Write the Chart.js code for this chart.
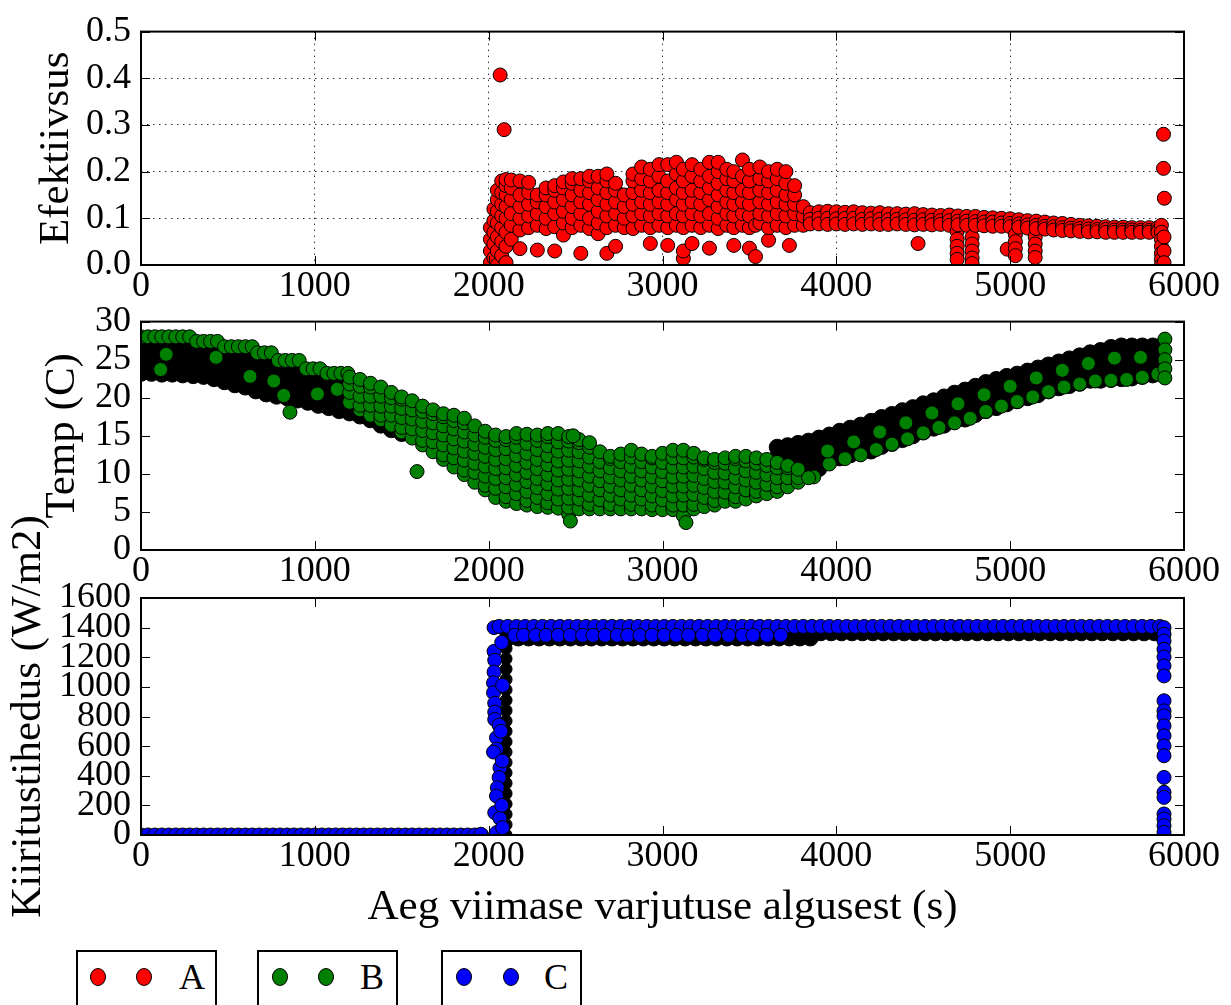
<!DOCTYPE html>
<html>
<head>
<meta charset="utf-8">
<title>Efektiivsus, temperatuur ja kiiritustihedus</title>
<script src="https://cdn.jsdelivr.net/npm/chart.js"></script>
<style>
  body { margin: 0; background: #fff; width: 1231px; height: 1005px; overflow: hidden; position: relative; }
  canvas { position: absolute; left: 0; }
  .leg { position: absolute; top: 950px; width: 137px; height: 90px; border: 2px solid #000; }
  .leg i { position: absolute; top: 16px; width: 14px; height: 16px; border-radius: 50%; border: 1px solid #000; }
  .leg span { position: absolute; left: 101px; top: 1px; font: 36px 'Liberation Serif', serif; line-height: 48px; color: #000; }
</style>
</head>
<body>
<canvas id="chartEff" width="1231" height="300" style="top:0"></canvas>
<canvas id="chartTemp" width="1231" height="300" style="top:290px"></canvas>
<canvas id="chartIrr" width="1231" height="460" style="top:480px"></canvas>

<div class="leg" style="left:76px"><i style="left:12px;background:#f00"></i><i style="left:58px;background:#f00"></i><span>A</span></div>
<div class="leg" style="left:257px"><i style="left:13px;background:#008000"></i><i style="left:59px;background:#008000"></i><span>B</span></div>
<div class="leg" style="left:441px"><i style="left:13px;background:#00f"></i><i style="left:60px;background:#00f"></i><span>C</span></div>

<script>
// x axis: time since start of last eclipse (s)
const xTicks = [0, 1000, 2000, 3000, 4000, 5000, 6000];
const effTicks = [0, 0.1, 0.2, 0.3, 0.4, 0.5];
const tempTicks = [0, 5, 10, 15, 20, 25, 30];
const irrTicks = [0, 200, 400, 600, 800, 1000, 1200, 1400, 1600];

// ---- panel 1: efficiency (columns: x, then y values) ----
const effOutliers = [[2066, 0.407], [2089, 0.29], [4470, 0.046], [5882, 0.28], [5882, 0.207], [5887, 0.143]];
const effCloud = [
  [2010, 0.005, 0.03, 0.055, 0.08],
  [2030, 0.015, 0.045, 0.07, 0.095, 0.12],
  [2050, 0.0, 0.03, 0.06, 0.09, 0.115, 0.14, 0.16],
  [2075, 0.02, 0.05, 0.08, 0.105, 0.13, 0.155, 0.18],
  [2100, 0.005, 0.04, 0.07, 0.1, 0.125, 0.15, 0.17, 0.183],
  [2130, 0.055, 0.085, 0.11, 0.14, 0.165, 0.182],
  [2180, 0.035, 0.075, 0.1, 0.125, 0.15, 0.18],
  [2230, 0.08, 0.105, 0.13, 0.155, 0.177],
  [2280, 0.032, 0.085, 0.11, 0.135, 0.15],
  [2330, 0.078, 0.1, 0.125, 0.15, 0.165],
  [2380, 0.03, 0.082, 0.11, 0.135, 0.16, 0.17],
  [2430, 0.064, 0.09, 0.115, 0.14, 0.165, 0.178],
  [2480, 0.08, 0.1, 0.125, 0.15, 0.175, 0.185],
  [2530, 0.025, 0.085, 0.11, 0.135, 0.16, 0.185],
  [2580, 0.078, 0.1, 0.13, 0.155, 0.18, 0.19],
  [2630, 0.067, 0.09, 0.115, 0.14, 0.165, 0.19],
  [2680, 0.025, 0.08, 0.105, 0.13, 0.155, 0.18, 0.195],
  [2730, 0.04, 0.085, 0.11, 0.135, 0.16, 0.175],
  [2780, 0.08, 0.1, 0.125, 0.15],
  [2830, 0.078, 0.105, 0.13, 0.155, 0.18, 0.195],
  [2880, 0.085, 0.11, 0.135, 0.16, 0.185, 0.21],
  [2930, 0.046, 0.08, 0.105, 0.13, 0.155, 0.18, 0.205],
  [2980, 0.085, 0.11, 0.135, 0.16, 0.19, 0.215],
  [3030, 0.042, 0.08, 0.105, 0.13, 0.155, 0.18, 0.215],
  [3080, 0.085, 0.11, 0.14, 0.165, 0.195, 0.22],
  [3120, 0.014, 0.03, 0.08, 0.105, 0.13, 0.155, 0.18, 0.205],
  [3170, 0.046, 0.085, 0.11, 0.135, 0.16, 0.19, 0.215],
  [3220, 0.08, 0.105, 0.13, 0.155, 0.18, 0.205],
  [3270, 0.036, 0.085, 0.11, 0.14, 0.165, 0.19, 0.22],
  [3320, 0.078, 0.1, 0.125, 0.15, 0.175, 0.2, 0.22],
  [3370, 0.085, 0.11, 0.135, 0.16, 0.185, 0.205],
  [3410, 0.042, 0.08, 0.105, 0.13, 0.155, 0.18, 0.2],
  [3460, 0.085, 0.11, 0.135, 0.16, 0.19, 0.225],
  [3500, 0.036, 0.08, 0.105, 0.13, 0.155, 0.18, 0.205],
  [3535, 0.018, 0.085],
  [3560, 0.09, 0.11, 0.135, 0.16, 0.185, 0.21],
  [3610, 0.053, 0.08, 0.105, 0.13, 0.155, 0.18, 0.2],
  [3660, 0.085, 0.11, 0.135, 0.16, 0.185, 0.205],
  [3710, 0.08, 0.105, 0.13, 0.15, 0.175, 0.2],
  [3730, 0.042],
  [3760, 0.085, 0.11, 0.13, 0.15, 0.17],
  [3810, 0.085, 0.105, 0.125]
];
const effBand = [
  [3850, 0.112, 0.098, 0.088], [3900, 0.114, 0.1, 0.088], [3950, 0.115, 0.1, 0.087],
  [4000, 0.114, 0.099, 0.088], [4050, 0.113, 0.1, 0.087], [4100, 0.114, 0.1, 0.088],
  [4150, 0.112, 0.098, 0.087], [4200, 0.111, 0.099, 0.088], [4250, 0.112, 0.098, 0.087],
  [4300, 0.11, 0.097, 0.087], [4350, 0.11, 0.098, 0.088], [4400, 0.109, 0.097, 0.087],
  [4450, 0.11, 0.096, 0.086], [4500, 0.108, 0.097, 0.087], [4550, 0.107, 0.096, 0.086],
  [4600, 0.106, 0.095, 0.087], [4650, 0.107, 0.095, 0.085], [4700, 0.105, 0.094, 0.086],
  [4750, 0.104, 0.094, 0.085], [4800, 0.104, 0.093, 0.085], [4850, 0.102, 0.092, 0.084],
  [4900, 0.101, 0.092, 0.083], [4950, 0.1, 0.09, 0.083], [5000, 0.099, 0.089, 0.082],
  [5050, 0.097, 0.088, 0.081], [5100, 0.095, 0.086, 0.079], [5150, 0.094, 0.085, 0.078],
  [5200, 0.092, 0.083, 0.077], [5250, 0.09, 0.082, 0.075], [5300, 0.089, 0.08, 0.074],
  [5350, 0.087, 0.079, 0.073], [5400, 0.085, 0.078, 0.072], [5450, 0.084, 0.077, 0.071],
  [5500, 0.083, 0.076, 0.071], [5550, 0.082, 0.076, 0.07], [5600, 0.081, 0.075, 0.07],
  [5650, 0.081, 0.075, 0.07], [5700, 0.08, 0.075, 0.07], [5750, 0.08, 0.074, 0.07],
  [5800, 0.08, 0.074, 0.07], [5850, 0.08, 0.074, 0.07]
];
const effDips = [
  [4695, 0.072, 0.055, 0.04, 0.025, 0.012],
  [4781, 0.06, 0.045, 0.03, 0.015, 0.003],
  [4983, 0.034],
  [5030, 0.065, 0.05, 0.035, 0.02],
  [5144, 0.06, 0.045, 0.03, 0.016],
  [5870, 0.085, 0.07, 0.055, 0.04, 0.025, 0.012, 0.0],
  [5885, 0.06, 0.03, 0.005]
];

// ---- panel 2: temperature ----
const tempOutliers = [[113, 23.7], [857, 18.1], [1588, 10.3], [2470, 3.8], [3135, 3.6], [2486, 15.0]];
// very dense overlapping markers, rendered dark as in the source
const tempLeftDense = [
  [0, 23.2, 24.6, 26.0, 27.4], [60, 23.2, 24.6, 26.0, 27.4], [120, 23.1, 24.5, 26.0, 27.4],
  [180, 23.1, 24.5, 26.0, 27.4], [240, 23.0, 24.5, 25.9, 27.4], [300, 22.9, 24.3, 25.6, 27.0],
  [360, 22.8, 24.1, 25.5, 26.8], [420, 22.5, 23.9, 25.4, 26.8], [480, 22.1, 23.4, 24.8, 26.1],
  [540, 21.7, 23.2, 24.6, 26.1], [600, 21.4, 23.0, 24.5, 26.1], [660, 20.9, 22.4, 23.8, 25.3],
  [720, 20.5, 22.1, 23.7, 25.3], [780, 20.2, 21.6, 22.9, 24.3], [840, 20.0, 21.4, 22.9, 24.3],
  [900, 19.7, 21.2, 22.8, 24.3], [960, 19.4, 20.7, 21.9, 23.2], [1020, 19.0, 20.4, 21.8, 23.2],
  [1080, 18.7, 20.0, 21.3, 22.6], [1140, 18.3, 19.7, 21.2, 22.6], [1200, 18.0, 19.3, 20.7, 22.0],
  [1260, 17.6, 18.9, 20.2, 21.5], [1320, 17.1, 18.4, 19.7, 21.0], [1380, 16.4, 17.6, 18.8, 20.0],
  [1440, 15.8, 16.9, 17.9, 19.0], [1500, 15.3, 16.2, 17.1, 18.0]
];
const tempRightDense = [
  [3660, 9.5, 10.8, 12.2, 13.5], [3720, 9.4, 10.8, 12.3, 13.7], [3780, 9.5, 11.0, 12.5, 14.0],
  [3840, 9.8, 11.3, 12.8, 14.3], [3900, 10.7, 12.0, 13.4, 14.7], [3960, 11.6, 12.8, 13.9, 15.1],
  [4020, 12.1, 13.3, 14.4, 15.6], [4080, 12.5, 13.7, 14.8, 16.0], [4140, 12.7, 13.9, 15.2, 16.4],
  [4200, 13.0, 14.3, 15.6, 16.9], [4260, 13.6, 14.9, 16.1, 17.4], [4320, 14.0, 15.3, 16.5, 17.8],
  [4380, 14.5, 15.8, 17.0, 18.3], [4440, 15.0, 16.2, 17.5, 18.7], [4500, 15.5, 16.7, 18.0, 19.2],
  [4560, 16.0, 17.2, 18.4, 19.6], [4620, 16.4, 17.6, 18.9, 20.1], [4680, 16.9, 18.1, 19.4, 20.6],
  [4740, 17.2, 18.5, 19.7, 21.0], [4800, 17.8, 19.0, 20.3, 21.5], [4860, 18.3, 19.5, 20.8, 22.0],
  [4920, 18.7, 19.9, 21.2, 22.4], [4980, 19.2, 20.4, 21.6, 22.8], [5040, 19.6, 20.8, 21.9, 23.1],
  [5100, 20.0, 21.2, 22.3, 23.5], [5160, 20.4, 21.6, 22.7, 23.9], [5220, 20.9, 22.0, 23.2, 24.3],
  [5280, 21.3, 22.4, 23.6, 24.7], [5340, 21.6, 22.8, 23.9, 25.1], [5400, 21.9, 23.1, 24.3, 25.5],
  [5460, 22.3, 23.5, 24.7, 25.9], [5520, 22.3, 23.6, 24.9, 26.2], [5580, 22.4, 23.8, 25.2, 26.6],
  [5640, 22.5, 23.9, 25.4, 26.8], [5700, 22.6, 24.0, 25.4, 26.8], [5760, 22.8, 24.1, 25.5, 26.8],
  [5820, 23.0, 24.3, 25.6, 26.8], [5870, 23.2, 24.4, 25.6, 26.8]
];
const tempEdges = [
  // step tops of the left band
  [0, 28.0], [40, 28.0], [80, 28.0], [120, 28.0], [160, 28.0], [200, 28.0], [240, 28.0], [280, 28.0],
  [320, 27.4], [360, 27.4], [400, 27.4], [440, 27.4],
  [480, 26.7], [520, 26.7], [560, 26.7], [600, 26.7], [640, 26.7],
  [670, 25.9], [710, 25.9], [750, 25.9],
  [790, 24.9], [830, 24.9], [870, 24.9], [910, 24.9],
  [950, 23.8], [990, 23.8], [1030, 23.8],
  [1070, 23.2], [1110, 23.2], [1150, 23.2], [1190, 23.2],
  // crescents inside the left band
  [145, 25.7], [432, 25.3], [627, 22.8], [764, 22.2], [821, 20.3], [1015, 20.5], [1129, 21.1],
  // lower edge and inner row of the right band
  [3870, 9.6], [3960, 11.3], [4050, 12.0], [4140, 12.5], [4230, 13.2], [4320, 13.9], [4410, 14.6],
  [4500, 15.4], [4590, 16.1], [4680, 16.7], [4770, 17.3], [4860, 18.2], [4950, 18.9], [5040, 19.5],
  [5130, 20.1], [5220, 20.8], [5310, 21.4], [5400, 21.8], [5490, 22.2], [5580, 22.3], [5670, 22.4],
  [5760, 22.7], [5850, 23.1],
  [3950, 13.0], [4100, 14.2], [4250, 15.5], [4400, 16.7], [4550, 18.0], [4700, 19.2], [4850, 20.4],
  [5000, 21.5], [5150, 22.6], [5300, 23.6], [5450, 24.5], [5600, 25.2], [5750, 25.3],
  [5890, 27.7], [5890, 26.3], [5890, 25.0], [5890, 23.8], [5890, 22.6]
];
const tempCloud = [
  [1200, 19.4, 20.7, 21.8, 22.7],
  [1260, 18.4, 19.0, 20.2, 21.5, 22.4],
  [1320, 17.7, 19.0, 20.2, 21.4, 21.9],
  [1380, 17.1, 17.7, 18.9, 20.2, 21.4],
  [1440, 16.4, 17.7, 18.9, 20.0, 20.7],
  [1500, 15.5, 16.1, 17.4, 18.6, 19.8, 20.1],
  [1560, 14.7, 15.9, 17.2, 18.4, 19.6],
  [1620, 13.8, 14.4, 15.7, 16.9, 18.2, 18.9],
  [1680, 12.9, 14.2, 15.4, 16.7, 17.9, 18.4],
  [1740, 11.9, 12.5, 13.8, 15.1, 16.3, 17.5, 17.9],
  [1800, 10.9, 12.1, 13.4, 14.6, 15.9, 17.0, 17.7],
  [1860, 9.9, 10.5, 11.8, 13.0, 14.3, 15.5, 16.7, 17.3],
  [1920, 8.9, 10.2, 11.4, 12.7, 13.9, 15.1, 16.3],
  [1980, 7.9, 8.5, 9.7, 11.0, 12.3, 13.5, 14.8, 15.6],
  [2040, 6.9, 8.1, 9.4, 10.7, 11.9, 13.2, 14.4, 15.1],
  [2100, 6.4, 7.0, 8.3, 9.5, 10.8, 12.0, 13.3, 14.5, 14.9],
  [2160, 6.1, 7.4, 8.6, 9.9, 11.1, 12.4, 13.6, 14.8, 15.3],
  [2220, 5.9, 6.5, 7.7, 9.0, 10.2, 11.5, 12.7, 14.0, 15.2],
  [2280, 5.7, 6.9, 8.2, 9.4, 10.7, 11.9, 13.2, 14.4, 15.1],
  [2340, 5.6, 6.2, 7.4, 8.7, 9.9, 11.2, 12.4, 13.7, 14.9, 15.3],
  [2400, 5.5, 6.7, 8.0, 9.2, 10.5, 11.7, 13.0, 14.2, 15.3],
  [2460, 4.7, 5.6, 6.8, 8.1, 9.3, 10.6, 11.8, 13.1, 14.3, 14.9],
  [2520, 5.4, 6.7, 7.9, 9.2, 10.4, 11.7, 12.9, 14.1, 14.5],
  [2580, 5.4, 6.0, 7.2, 8.5, 9.7, 11.0, 12.2, 13.5, 14.1],
  [2640, 5.4, 6.6, 7.9, 9.1, 10.4, 11.6, 12.9],
  [2700, 5.4, 6.0, 7.2, 8.4, 9.6, 10.8, 12.0, 12.3],
  [2760, 5.4, 6.7, 7.9, 9.2, 10.4, 11.6, 12.6],
  [2820, 5.4, 6.0, 7.2, 8.5, 9.7, 11.0, 12.2, 13.1],
  [2880, 5.4, 6.7, 7.9, 9.2, 10.4, 11.6, 12.6],
  [2940, 5.3, 5.9, 7.1, 8.4, 9.6, 10.9, 12.1, 12.3],
  [3000, 5.3, 6.6, 7.8, 9.1, 10.3, 11.5, 12.7],
  [3060, 5.3, 5.9, 7.1, 8.4, 9.6, 10.9, 12.1, 13.1],
  [3120, 4.5, 5.9, 7.2, 8.4, 9.7, 10.9, 12.1, 13.1],
  [3180, 5.4, 6.0, 7.3, 8.5, 9.8, 11.0, 12.2, 12.7],
  [3240, 5.7, 6.9, 8.2, 9.4, 10.7, 11.9, 12.1],
  [3300, 5.9, 6.5, 7.7, 9.0, 10.2, 11.5, 11.9],
  [3360, 6.4, 7.6, 8.9, 10.1, 11.4, 12.1],
  [3420, 6.4, 7.0, 8.3, 9.5, 10.8, 12.0, 12.3],
  [3480, 6.7, 7.9, 9.2, 10.4, 11.7, 12.3],
  [3540, 7.1, 7.7, 8.9, 10.2, 11.4, 12.1],
  [3600, 7.4, 8.6, 9.9, 11.1, 11.9],
  [3660, 7.7, 8.3, 9.5, 10.8, 11.5],
  [3720, 8.3, 9.5, 10.8, 11.1],
  [3780, 8.9, 9.5, 10.6],
  [3840, 9.5]
];

// ---- panel 3: irradiance ----
const irrZeroX = [0, 40, 80, 120, 160, 200, 240, 280, 320, 360, 400, 440, 480, 520, 560, 600, 640, 680, 720, 760,
  800, 840, 880, 920, 960, 1000, 1040, 1080, 1120, 1160, 1200, 1240, 1280, 1320, 1360, 1400, 1440, 1480, 1520,
  1560, 1600, 1640, 1680, 1720, 1760, 1800, 1840, 1880, 1920, 1960];
const irrRise = [[2031, 1400], [2031, 1240], [2035, 1180], [2031, 1100], [2028, 1027], [2028, 960], [2035, 890],
  [2035, 830], [2035, 780], [2060, 742], [2045, 657], [2045, 580], [2028, 560], [2065, 454], [2060, 388],
  [2050, 319], [2045, 263], [2035, 151], [2065, 112], [2045, 16], [1955, 5],
  [2075, 1300], [2080, 1010], [2070, 700], [2078, 500], [2075, 200], [2080, 50]];
const irrRiseDense = [
  [2100, 0, 70, 140, 210, 280, 350, 420, 490, 560, 630, 700, 770, 840, 910, 980, 1050, 1120, 1190, 1260, 1300]
];
const irrBandLowX = [2110, 2170, 2230, 2290, 2350, 2410, 2470, 2530, 2590, 2650, 2710, 2770, 2830, 2890, 2950,
  3010, 3070, 3130, 3190, 3250, 3310, 3370, 3430, 3490, 3550, 3610, 3670, 3730, 3790, 3850];
const irrBandHighX = [2110, 2170, 2230, 2290, 2350, 2410, 2470, 2530, 2590, 2650, 2710, 2770, 2830, 2890, 2950,
  3010, 3070, 3130, 3190, 3250, 3310, 3370, 3430, 3490, 3550, 3610, 3670, 3730, 3790, 3850, 3910, 3970, 4030,
  4090, 4150, 4210, 4270, 4330, 4390, 4450, 4510, 4570, 4630, 4690, 4750, 4810, 4870, 4930, 4990, 5050, 5110,
  5170, 5230, 5290, 5350, 5410, 5470, 5530, 5590, 5650, 5710, 5770, 5830, 5870];
const irrTopX = [2060, 2110, 2160, 2210, 2260, 2310, 2360, 2410, 2460, 2510, 2560, 2610, 2660, 2710, 2760, 2810,
  2860, 2910, 2960, 3010, 3060, 3110, 3160, 3210, 3260, 3310, 3360, 3410, 3460, 3510, 3560, 3610, 3660, 3710,
  3760, 3810, 3860, 3910, 3960, 4010, 4060, 4110, 4160, 4210, 4260, 4310, 4360, 4410, 4460, 4510, 4560, 4610,
  4660, 4710, 4760, 4810, 4860, 4910, 4960, 5010, 5060, 5110, 5160, 5210, 5260, 5310, 5360, 5410, 5460, 5510,
  5560, 5610, 5660, 5710, 5760, 5810, 5860];
const irrDotsX = [2150, 2200, 2270, 2330, 2400, 2470, 2540, 2600, 2670, 2740, 2800, 2870, 2940, 3010, 3080, 3150,
  3230, 3300, 3380, 3460, 3520, 3600, 3680];
const irrFall = [1400, 1355, 1310, 1254, 1202, 1142, 1074, 906, 838, 804, 737, 670, 602, 535, 389, 288, 254, 142, 108, 63, 18];

function cols(list) {
  const pts = [];
  list.forEach(c => c.slice(1).forEach(y => pts.push({ x: c[0], y: y })));
  return pts;
}
function pairs(list) { return list.map(p => ({ x: p[0], y: p[1] })); }
function row(y, xs) { return xs.map(x => ({ x: x, y: y })); }
function column(x, ys) { return ys.map(y => ({ x: x, y: y })); }
function byX(pts) { return pts.slice().sort((a, b) => a.x - b.x); }

const FONT = 'Liberation Serif';
const tickFont = { family: FONT, size: 36 };
const titleFont = { family: FONT, size: 43 };
const RED = '#ff0000', GREEN = '#008000', BLUE = '#0000ff';

function markers(points, fill, radius) {
  return {
    data: points,
    pointRadius: radius || 7,
    pointHoverRadius: radius || 7,
    pointBackgroundColor: fill,
    pointBorderColor: '#000',
    pointBorderWidth: 1
  };
}

// matplotlib-like box with inward ticks on all four sides
const framePlugin = {
  id: 'frame',
  afterDatasetsDraw(chart) {
    const { ctx, chartArea: a, scales } = chart;
    const len = 9;
    ctx.save();
    ctx.strokeStyle = '#000';
    ctx.lineWidth = 1;
    ctx.beginPath();
    scales.x.ticks.forEach(t => {
      const px = Math.round(scales.x.getPixelForValue(t.value)) + 0.5;
      ctx.moveTo(px, a.bottom); ctx.lineTo(px, a.bottom - len);
      ctx.moveTo(px, a.top); ctx.lineTo(px, a.top + len);
    });
    scales.y.ticks.forEach(t => {
      const py = Math.round(scales.y.getPixelForValue(t.value)) + 0.5;
      ctx.moveTo(a.left, py); ctx.lineTo(a.left + len, py);
      ctx.moveTo(a.right, py); ctx.lineTo(a.right - len, py);
    });
    ctx.stroke();
    ctx.lineWidth = 2;
    ctx.strokeRect(a.left, a.top, a.right - a.left, a.bottom - a.top);
    ctx.restore();
  }
};

function makeChart(id, o) {
  return new Chart(document.getElementById(id), {
    type: 'scatter',
    data: { datasets: o.datasets },
    options: {
      responsive: false,
      animation: false,
      events: [],
      layout: { padding: o.padding },
      plugins: { legend: { display: false }, tooltip: { enabled: false } },
      scales: {
        x: {
          min: 0, max: 6000,
          afterFit: s => { s.height = o.xHeight; },
          afterBuildTicks: s => { s.ticks = xTicks.map(v => ({ value: v })); },
          ticks: { color: '#000', font: tickFont, padding: 0, autoSkip: false, maxRotation: 0, minRotation: 0,
            callback: v => String(v) },
          grid: { display: o.grid, color: 'rgba(0,0,0,0.8)', lineWidth: 1, drawTicks: false },
          border: { display: false, dash: [1.5, 4.5] },
          title: o.xTitle
            ? { display: true, text: o.xTitle, color: '#000', font: titleFont, padding: { top: 0, bottom: 6 } }
            : { display: false }
        },
        y: {
          min: 0, max: o.yTicks[o.yTicks.length - 1],
          afterFit: s => { s.width = o.yWidth; },
          afterBuildTicks: s => { s.ticks = o.yTicks.map(v => ({ value: v })); },
          ticks: { color: '#000', font: tickFont, padding: 10, autoSkip: false, callback: o.yFormat },
          grid: { display: o.grid, color: 'rgba(0,0,0,0.8)', lineWidth: 1, drawTicks: false },
          border: { display: false, dash: [1.5, 4.5] },
          title: { display: true, text: o.yTitle, color: '#000', font: titleFont, padding: 0 }
        }
      }
    },
    plugins: [framePlugin]
  });
}

// dataset 0 is drawn on top
makeChart('chartEff', {
  padding: { left: 31, right: 47, top: 29, bottom: 0 },
  yWidth: 110, xHeight: 35, grid: true,
  yTicks: effTicks, yFormat: v => v.toFixed(1), yTitle: 'Efektiivsus',
  datasets: [
    markers(pairs(effOutliers), RED),
    markers(byX(cols(effCloud).concat(cols(effBand), cols(effDips))), RED)
  ]
});

makeChart('chartTemp', {
  padding: { left: 37, right: 47, top: 23, bottom: 0 },
  yWidth: 104, xHeight: 40, grid: false,
  yTicks: tempTicks, yFormat: v => String(v), yTitle: 'Temp (C)',
  datasets: [
    markers(pairs(tempOutliers), GREEN),
    markers(cols(tempCloud), GREEN),
    markers(pairs(tempEdges), GREEN),
    markers(cols(tempLeftDense).concat(cols(tempRightDense)), '#000', 8)
  ]
});

makeChart('chartIrr', {
  padding: { left: 3, right: 47, top: 118, bottom: 0 },
  yWidth: 138, xHeight: 105, grid: false,
  yTicks: irrTicks, yFormat: v => String(v), yTitle: 'Kiiritustihedus (W/m2)',
  xTitle: 'Aeg viimase varjutuse algusest (s)',
  datasets: [
    markers(column(5885, irrFall), BLUE),
    markers(row(1348, irrDotsX), BLUE),
    markers(row(1408, irrTopX), BLUE),
    markers(pairs(irrRise), BLUE),
    markers(row(0, irrZeroX), BLUE),
    markers(cols(irrRiseDense), '#000', 6),
    markers(row(1330, irrBandLowX).concat(row(1365, irrBandHighX)), '#000', 8)
  ]
});
</script>
</body>
</html>
